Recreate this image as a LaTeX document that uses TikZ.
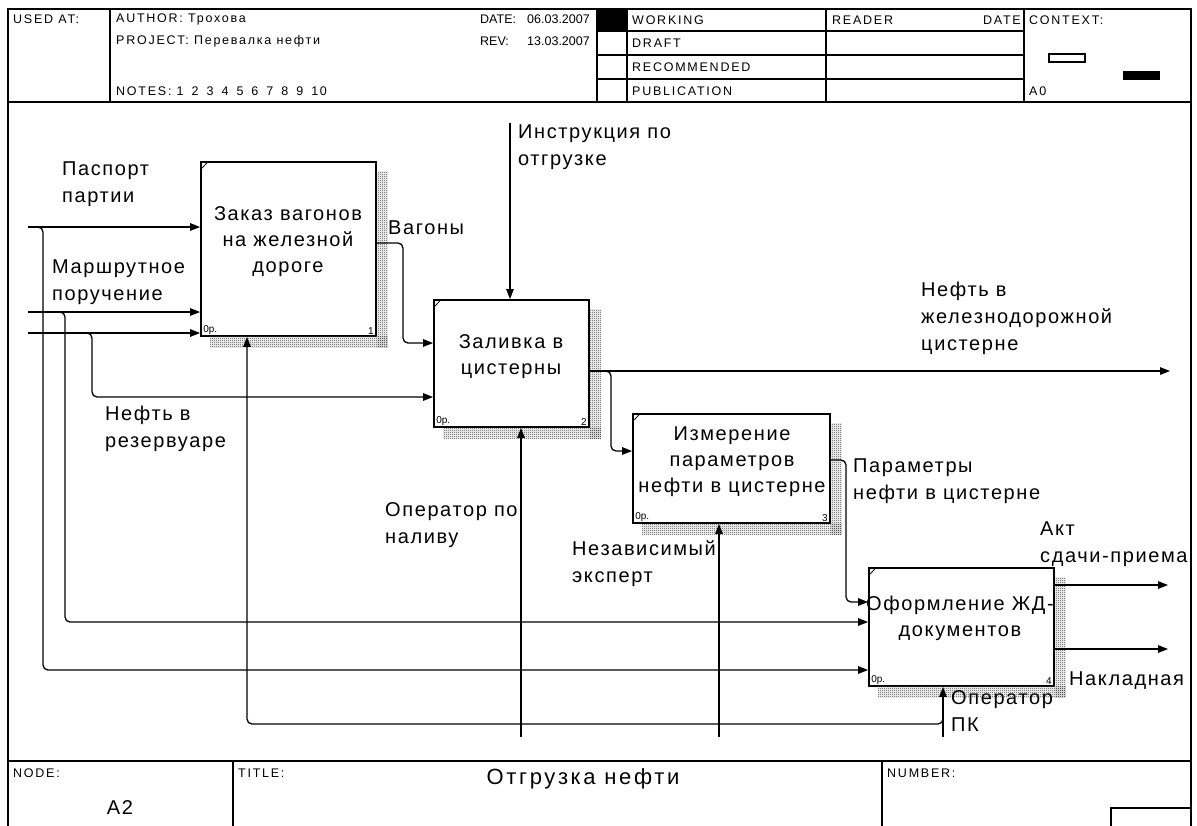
\documentclass[tikz,border=0pt]{standalone}
\usepackage{fontspec}
\setmainfont{Liberation Sans}
\newfontfamily\lblfont[LetterSpace=8]{Liberation Sans}
\newfontfamily\hdrfont[LetterSpace=14]{Liberation Sans}
\newfontfamily\datefont[LetterSpace=0]{Liberation Sans}
\newfontfamily\ttlfont[LetterSpace=12]{Liberation Sans}
\usetikzlibrary{arrows.meta,patterns}

\pgfdeclarepatternformonly{idefdots}{\pgfqpoint{0pt}{0pt}}{\pgfqpoint{2pt}{2pt}}{\pgfqpoint{2pt}{2pt}}{%
  \pgfpathrectangle{\pgfqpoint{0pt}{0pt}}{\pgfqpoint{1pt}{1pt}}%
  \pgfpathrectangle{\pgfqpoint{1pt}{1pt}}{\pgfqpoint{1pt}{1pt}}%
  \pgfusepath{fill}}

\newcommand\idefbox[5]{%
  \node[box,minimum width=#3,minimum height=#4] (#1) at (#2) {};
  \fill[shd] ([yshift=-10pt]#1.north east) rectangle ([xshift=11pt,yshift=-11pt]#1.south east);
  \fill[shd] ([xshift=10pt]#1.south west) rectangle ([xshift=11pt,yshift=-11pt]#1.south east);
  \draw[line width=0.8pt] ([shift={(1pt,-8pt)}]#1.north west) -- ([shift={(7pt,-1.5pt)}]#1.north west);
  \node[small,anchor=south west] (#1r) at ([shift={(3pt,2pt)}]#1.south west) {0р.};
  \node[small,anchor=south east] (#1n) at ([shift={(-3pt,2pt)}]#1.south east) {#5};
}

\begin{document}
\begin{tikzpicture}[x=1pt,y=-1pt,
  frame/.style={line width=1.4pt},
  box/.style={draw,line width=1.8pt,rectangle,inner sep=0pt,fill=white},
  arr/.style={line width=1.3pt,-{Triangle[length=10pt,width=7.5pt]}},
  rc/.style={rounded corners=5pt},
  shd/.style={pattern=idefdots,pattern color=black!75},
  lbl/.style={anchor=north west,inner sep=0pt,align=left,font=\lblfont\fontsize{20}{27}\selectfont},
  btxt/.style={inner sep=0pt,align=center,font=\lblfont\fontsize{20}{26}\selectfont},
  hdr/.style={anchor=west,inner sep=0pt,font=\hdrfont\fontsize{12.5}{14}\selectfont},
  hdre/.style={hdr,anchor=east},
  dt/.style={anchor=west,inner sep=0pt,font=\datefont\fontsize{12.5}{14}\selectfont},
  dte/.style={dt,anchor=east},
  small/.style={inner sep=0pt,font=\fontsize{10}{12}\selectfont},
]
\useasboundingbox (0,0) rectangle (1197,825);

% ---------- frame ----------
\draw[frame] (8,830) -- (8,9) -- (1191,9) -- (1191,830);
\draw[frame] (8,102) -- (1191,102);
\draw[frame] (110,9) -- (110,102);
\draw[frame] (597,9) -- (597,102);
\draw[frame] (627,9) -- (627,102);
\draw[frame] (826,9) -- (826,102);
\draw[frame] (1024,9) -- (1024,102);
\draw[frame] (597,31) -- (1024,31);
\draw[frame] (597,55) -- (1024,55);
\draw[frame] (597,79) -- (1024,79);
\fill (597,9) rectangle (627,31);
\draw[line width=1.2pt] (1049,54) rectangle (1085,62);
\fill (1123,71) rectangle (1160,80);

\node[hdr] (usedat) at (13,19) {USED AT:};
\node[hdr] (author) at (116,19) {AUTHOR: Трохова};
\node[hdr] (project) at (116,41) {PROJECT: Перевалка нефти};
\node[hdr] (notes) at (116,91) {NOTES: 1\hspace{8pt}2\hspace{8pt}3\hspace{8pt}4\hspace{8pt}5\hspace{8pt}6\hspace{8pt}7\hspace{8pt}8\hspace{8pt}9\hspace{8pt}10};
\node[dt] (date) at (480,19) {DATE:};
\node[dte] (datev) at (590,19) {06.03.2007};
\node[dt] (rev) at (480,41) {REV:};
\node[dte] (revv) at (590,41) {13.03.2007};
\node[hdr] (working) at (632,20) {WORKING};
\node[hdr] (draft) at (632,43) {DRAFT};
\node[hdr] (recom) at (632,67) {RECOMMENDED};
\node[hdr] (publ) at (632,91) {PUBLICATION};
\node[hdr] (reader) at (832,20) {READER};
\node[hdre] (rdate) at (1021,20) {DATE};
\node[hdr] (context) at (1029,20) {CONTEXT:};
\node[hdr] (a0) at (1029,91) {A0};

% footer
\draw[frame] (8,761) -- (1191,761);
\draw[frame] (233,761) -- (233,830);
\draw[frame] (882,761) -- (882,830);
\draw[frame] (1111,830) -- (1111,808) -- (1191,808);
\node[hdr] (nodel) at (13,773) {NODE:};
\node[hdr] (titlel) at (238,773) {TITLE:};
\node[hdr] (numberl) at (887,773) {NUMBER:};
\node[inner sep=0pt,font=\ttlfont\fontsize{22}{24}\selectfont] (ttl) at (583,779) {Отгрузка нефти};
\node[inner sep=0pt,font=\lblfont\fontsize{20}{24}\selectfont] (a2) at (120,808) {A2};

% ---------- boxes ----------
\idefbox{b1}{288.5,249}{175pt}{174pt}{1}
\idefbox{b2}{511.5,363.5}{155pt}{127pt}{2}
\idefbox{b3}{731.5,468.5}{197pt}{109pt}{3}
\idefbox{b4}{961.5,627}{185pt}{118pt}{4}

\node[btxt] (t1) at (288,242) {Заказ вагонов\\на железной\\дороге};
\node[btxt] (t2) at (511,357) {Заливка в\\цистерны};
\node[btxt] (t3) at (732,462) {Измерение\\параметров\\нефти в цистерне};
\node[btxt] (t4) at (960,618) {Оформление ЖД-\\документов};

% ---------- connectors ----------
\coordinate (in1) at (28,227);
\coordinate (in2) at (28,312);
\coordinate (in3) at (28,333);
\draw[arr] (in1) -- (in1 -| b1.west);
\draw[arr] (in2) -- (in2 -| b1.west);
\draw[arr] (in3) -- (in3 -| b1.west);

\coordinate (p1s) at (36,227);
\coordinate (p1) at (43,670);
\draw[arr,rc] (p1s) -| (p1) -- (p1 -| b4.west);
\coordinate (p2s) at (58,312);
\coordinate (p2) at (65,622);
\draw[arr,rc] (p2s) -| (p2) -- (p2 -| b4.west);
\coordinate (p3s) at (85,333);
\coordinate (p3) at (92,397);
\draw[arr,rc] (p3s) -| (p3) -- (p3 -| b2.west);

\coordinate (vg) at (403,243);
\coordinate (vg2) at (403,343);
\draw[arr,rc] (vg -| b1.east) -- (vg) -- (vg2) -- (vg2 -| b2.west);

\coordinate (c2) at (510,123);
\draw[arr] (c2) -- (c2 |- b2.north);

\coordinate (m2) at (521,737);
\draw[arr] (m2) -- (m2 |- b2.south);

\coordinate (out2) at (1170,371);
\draw[arr] (out2 -| b2.east) -- (out2);
\coordinate (p5s) at (603,371);
\coordinate (p5) at (611,451);
\draw[arr,rc] (p5s) -| (p5) -- (p5 -| b3.west);

\coordinate (m3) at (719,737);
\draw[arr] (m3) -- (m3 |- b3.south);

\coordinate (p6a) at (846,460);
\coordinate (p6) at (846,602);
\draw[arr,rc] (p6a -| b3.east) -- (p6a) -- (p6) -- (p6 -| b4.west);

\coordinate (m4) at (943,737);
\draw[arr] (m4) -- (m4 |- b4.south);
\coordinate (j4) at (943,716);
\coordinate (m1) at (247,724);
\draw[arr,rc] (j4) |- (m1) -- (m1 |- b1.south);

\coordinate (o4a) at (1168,585);
\coordinate (o4b) at (1168,649);
\draw[arr] (o4a -| b4.east) -- (o4a);
\draw[arr] (o4b -| b4.east) -- (o4b);

% ---------- labels ----------
\node[lbl] (l1) at (62,162) {Паспорт\\партии};
\node[lbl] (l2) at (52,260) {Маршрутное\\поручение};
\node[lbl] (l3) at (105,406) {Нефть в\\резервуаре};
\node[lbl] (l4) at (388,221) {Вагоны};
\node[lbl] (l5) at (518,125) {Инструкция по\\отгрузке};
\node[lbl] (l6) at (921,282) {Нефть в\\железнодорожной\\цистерне};
\node[lbl] (l7) at (385,502) {Оператор по\\наливу};
\node[lbl] (l8) at (572,540) {Независимый\\эксперт};
\node[lbl] (l9) at (853,459) {Параметры\\нефти в цистерне};
\node[lbl] (l10) at (1040,522) {Акт\\сдачи-приема};
\node[lbl] (l11) at (1069,672) {Накладная};
\node[lbl] (l12) at (951,690) {Оператор\\ПК};
\end{tikzpicture}
\end{document}
